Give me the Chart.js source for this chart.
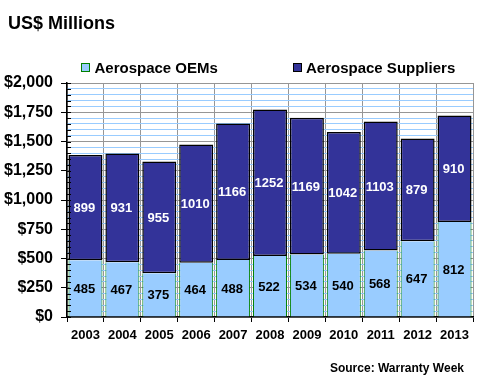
<!DOCTYPE html>
<html><head><meta charset="utf-8">
<script src="https://cdn.jsdelivr.net/npm/chart.js@4/dist/chart.umd.min.js"></script>
<style>html,body{margin:0;padding:0;background:#fff}#wrap{width:480px;height:390px;position:relative}</style>
</head><body><div id="wrap"><canvas id="c" width="480" height="390"></canvas></div>
<script>
const years = ['2003','2004','2005','2006','2007','2008','2009','2010','2011','2012','2013'];
const oemValues = [485,467,375,464,488,522,534,540,568,647,812];
const supplierValues = [899,931,955,1010,1166,1252,1169,1042,1103,879,910];
const seriesNames = ['Aerospace OEMs','Aerospace Suppliers'];
const titleText = 'US$ Millions';
const sourceText = 'Source: Warranty Week';
const yMax = 2000, yMajorStep = 250, yMinorStep = 50;

const FONT = '"Liberation Sans", Arial, sans-serif';

const decorPlugin = {
  id: 'decor',
  afterDatasetsDraw(chart) {
    const ctx = chart.ctx;
    const ys = chart.scales.y;
    const left = chart.chartArea.left;
    ctx.save();
    ctx.strokeStyle = '#000';
    ctx.lineWidth = 1;
    for (let v = 0; v <= yMax; v += yMinorStep) {
      const py = Math.round(ys.getPixelForValue(v)) + 0.5;
      ctx.beginPath();
      ctx.moveTo(left, py);
      ctx.lineTo(left + 4, py);
      ctx.stroke();
    }
    ctx.font = 'bold 13px ' + FONT;
    ctx.textAlign = 'center';
    ctx.textBaseline = 'middle';
    chart.data.datasets.forEach((ds, di) => {
      const meta = chart.getDatasetMeta(di);
      ctx.fillStyle = di === 0 ? '#000' : '#fff';
      meta.data.forEach((el, i) => {
        ctx.fillText(String(ds.data[i]), el.x - 1, (el.y + el.base) / 2 + 1);
      });
    });
    ctx.restore();
  },
  afterDraw(chart) {
    const ctx = chart.ctx;
    ctx.save();
    ctx.fillStyle = '#000';
    ctx.textBaseline = 'alphabetic';
    ctx.textAlign = 'left';
    ctx.font = 'bold 18px ' + FONT;
    ctx.fillText(titleText, 8, 29);
    const legendPos = [{bx: 81.5, tx: 94.5}, {bx: 293.5, tx: 306}];
    ctx.font = 'bold 15px ' + FONT;
    chart.data.datasets.forEach((ds, di) => {
      const p = legendPos[di];
      ctx.fillStyle = ds.backgroundColor;
      ctx.fillRect(p.bx, 63.5, 8, 8);
      ctx.strokeStyle = ds.borderColor;
      ctx.lineWidth = 1;
      ctx.strokeRect(p.bx, 63.5, 8, 8);
      ctx.fillStyle = '#000';
      ctx.fillText(ds.label, p.tx, 73);
    });
    ctx.font = 'bold 12px ' + FONT;
    ctx.textAlign = 'right';
    ctx.fillText(sourceText, 464, 372);
    ctx.restore();
  }
};

new Chart(document.getElementById('c'), {
  type: 'bar',
  data: {
    labels: years,
    datasets: [
      {label: seriesNames[0], data: oemValues, backgroundColor: '#99CCFF', borderColor: '#008000',
       borderWidth: {left: 1, right: 1, top: 0, bottom: 0}, borderSkipped: false},
      {label: seriesNames[1], data: supplierValues, backgroundColor: '#333399', borderColor: '#000000',
       borderWidth: 1.5, borderSkipped: false}
    ]
  },
  options: {
    responsive: false,
    animation: false,
    devicePixelRatio: 1,
    barPercentage: 0.92,
    categoryPercentage: 1,
    layout: {padding: {top: 83, right: 7, bottom: 0, left: 0}},
    plugins: {legend: {display: false}, title: {display: false}, tooltip: {enabled: false}},
    scales: {
      x: {
        stacked: true,
        afterFit(s) { s.height = 73; },
        grid: {offset: true, color: '#969696', tickColor: '#000', tickLength: 5, lineWidth: 1},
        border: {color: '#000', width: 1.5},
        ticks: {color: '#000', font: {family: FONT, weight: 'bold', size: 13}, padding: 6, maxRotation: 0}
      },
      y: {
        stacked: true,
        min: 0, max: yMax,
        afterFit(s) { s.width = 67; },
        grid: {
          color: c => (c.tick && c.tick.value % yMajorStep === 0) ? '#969696' : '#99CCFF',
          tickColor: c => (c.tick && c.tick.value % yMajorStep === 0) ? '#000' : 'rgba(0,0,0,0)',
          tickLength: 6, lineWidth: 1
        },
        border: {color: '#000', width: 1.5},
        ticks: {
          stepSize: yMinorStep, autoSkip: false, padding: 8, color: '#000',
          font: {family: FONT, weight: 'bold', size: 16},
          callback: v => v % yMajorStep === 0 ? '$' + v.toLocaleString('en-US') : ''
        }
      }
    }
  },
  plugins: [decorPlugin]
});
</script></body></html>
